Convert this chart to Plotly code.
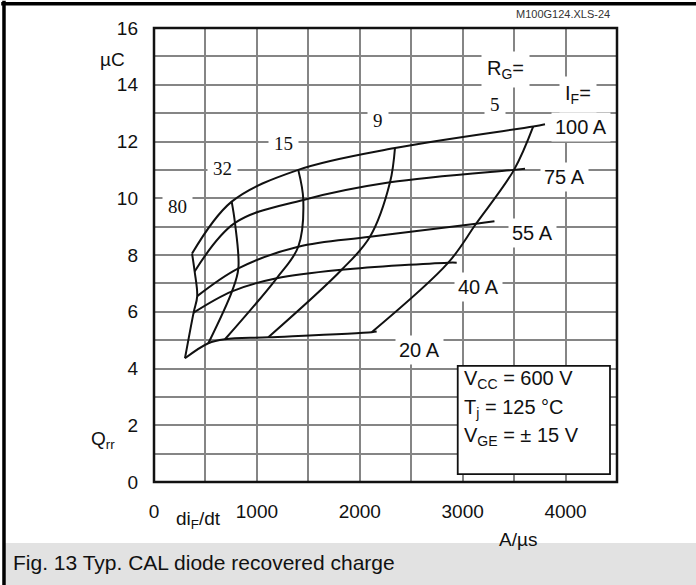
import plotly.graph_objects as go

# ---------------- data ----------------
IF_labels = ["100 A", "75 A", "55 A", "40 A", "20 A"]
RG_labels = ["80", "32", "15", "9", "5"]

# di/dt (A/us) at the intersections: rows = I_F, columns = R_G (80, 32, 15, 9, 5)
didt_100 = [370, 755, 1402, 2342, 3686]
didt_75 = [395, 787, 1451, 2294, 3499]
didt_55 = [420, 820, 1402, 2099, 3130]
didt_40 = [385, 758, 1192, 1824, 2860]
didt_20 = [301, 528, 690, 1111, 2116]

# Qrr (uC) at the intersections
qrr_100 = [8.05, 9.88, 11.0, 11.77, 12.53]
qrr_75 = [7.42, 9.13, 9.94, 10.56, 11.0]
qrr_55 = [6.55, 7.53, 8.29, 8.64, 9.10]
qrr_40 = [5.97, 6.72, 7.18, 7.48, 7.73]
qrr_20 = [4.36, 4.89, 5.03, 5.10, 5.28]

# end points of the I_F curves (they overshoot the R_G = 5 curve)
end_didt = [3800, 3606, 3309, 2942, 2164]
end_qrr = [12.61, 11.04, 9.19, 7.73, 5.30]

x_ticks = [0, 1000, 2000, 3000, 4000]
x_ticktext = ["0", "1000", "2000", "3000", "4000"]
y_ticks = [0, 2, 4, 6, 8, 10, 12, 14, 16]
y_ticktext = ["0", "2", "4", "6", "8", "10", "12", "14", "16"]

didt_rows = [didt_100, didt_75, didt_55, didt_40, didt_20]
qrr_rows = [qrr_100, qrr_75, qrr_55, qrr_40, qrr_20]

SANS = "Arial, Liberation Sans, sans-serif"
SERIF = "Times New Roman, Liberation Serif, serif"
INK = "#111111"

fig = go.Figure()

# I_F curves
for i, name in enumerate(IF_labels):
    xs = didt_rows[i] + [end_didt[i]]
    ys = qrr_rows[i] + [end_qrr[i]]
    fig.add_trace(go.Scatter(x=xs, y=ys, mode="lines", name=name,
                             line=dict(color=INK, width=2, shape="spline", smoothing=1.0),
                             showlegend=False, hoverinfo="skip"))

# R_G curves
for j, name in enumerate(RG_labels):
    xs = [row[j] for row in didt_rows]
    ys = [row[j] for row in qrr_rows]
    fig.add_trace(go.Scatter(x=xs, y=ys, mode="lines", name="RG " + name,
                             line=dict(color=INK, width=2, shape="spline", smoothing=1.0),
                             showlegend=False, hoverinfo="skip"))

C = dict(xanchor="center", yanchor="middle", showarrow=False)

ann = []
# I_F labels
if_pos = [(4150, 12.52), (3985, 10.75), (3674, 8.78), (3149, 6.88), (2585, 4.65)]
for (x, y), t in zip(if_pos, IF_labels):
    ann.append(dict(x=x, y=y, text=t, bgcolor="white",
                    font=dict(family=SANS, size=20, color=INK), borderpad=3, **C))
# R_G labels
rg_pos = [(224, 9.70), (661, 11.04), (1263, 11.92), (2177, 12.73), (3314, 13.29)]
for (x, y), t in zip(rg_pos, RG_labels):
    ann.append(dict(x=x, y=y, text=t, bgcolor="white",
                    font=dict(family=SERIF, size=19, color=INK), borderpad=5, **C))
ann.append(dict(x=3421, y=14.53, text="R<sub>G</sub>=", bgcolor="white",
                font=dict(family=SANS, size=20, color=INK), borderpad=5, **C))
ann.append(dict(x=4121, y=13.65, text="I<sub>F</sub>=", bgcolor="white",
                font=dict(family=SANS, size=20, color=INK), borderpad=5, **C))

# condition box text
cond = ["V<sub>CC</sub> = 600 V", "T<sub>j</sub> = 125 °C", "V<sub>GE</sub> = ± 15 V"]
cond_y = [3.6, 2.6, 1.6]
for t, y in zip(cond, cond_y):
    ann.append(dict(x=2990, y=y, text=t, showarrow=False, xanchor="left", yanchor="middle",
                    font=dict(family=SANS, size=20, color=INK)))

# axis labels & misc text (paper coords)
P = dict(xref="paper", yref="paper", showarrow=False, yanchor="middle")
ann += [
    dict(x=0.0432, y=-0.0838, xanchor="left", text="di<sub>F</sub>/dt",
         font=dict(family=SANS, size=19, color=INK), **P),
    dict(x=0.786, y=-0.1256, xanchor="center", text="A/µs",
         font=dict(family=SANS, size=19, color=INK), **P),
    dict(x=-0.0907, y=0.930, xanchor="center", text="µC",
         font=dict(family=SANS, size=19, color=INK), **P),
    dict(x=-0.110, y=0.0926, xanchor="center", text="Q<sub>rr</sub>",
         font=dict(family=SANS, size=19, color=INK), **P),
    dict(x=0.989, y=1.0315, xanchor="right", text="M100G124.XLS-24",
         font=dict(family=SANS, size=11, color="#333333"), **P),
    dict(x=-0.3089, y=-0.1763, xanchor="left",
         text="Fig. 13 Typ. CAL diode recovered charge",
         font=dict(family=SANS, size=21, color=INK), **P),
]

shapes = [
    # caption band
    dict(type="rect", xref="paper", yref="paper", x0=-0.3218, x1=1.18, y0=-0.25, y1=-0.1344,
         fillcolor="#e2e2e2", line=dict(width=0), layer="below"),
    # condition box
    dict(type="rect", xref="x", yref="y", x0=2952, x1=4432, y0=0.28, y1=4.09,
         fillcolor="white", line=dict(color=INK, width=1.8), layer="above"),
    # plot frame
    dict(type="rect", xref="paper", yref="paper", x0=0, x1=1, y0=0, y1=1,
         line=dict(color=INK, width=2.5)),
    # outer image border (top and left)
    dict(type="line", xref="paper", yref="paper", x0=-0.33, x1=1.18, y0=1.0535, y1=1.0535,
         line=dict(color="black", width=3.5)),
    dict(type="line", xref="paper", yref="paper", x0=-0.3240, x1=-0.3240, y0=1.06, y1=-0.25,
         line=dict(color="black", width=3.5)),
]

fig.update_layout(
    width=696, height=585,
    margin=dict(l=154, r=79, t=28, b=103),
    paper_bgcolor="white", plot_bgcolor="white",
    annotations=ann, shapes=shapes,
    showlegend=False,
)
fig.update_xaxes(range=[0, 4500], tickvals=x_ticks, ticktext=x_ticktext,
                 showgrid=True, gridcolor="#858585", gridwidth=1.5,
                 minor=dict(tickvals=[500, 1500, 2500, 3500], showgrid=True,
                            gridcolor="#858585", gridwidth=1.5),
                 zeroline=False, showline=False, ticks="",
                 tickfont=dict(family=SANS, size=19, color=INK), ticklabelstandoff=16)
fig.update_yaxes(range=[0, 16], tickvals=y_ticks, ticktext=y_ticktext,
                 showgrid=True, gridcolor="#858585", gridwidth=1.5,
                 minor=dict(tickvals=[1, 3, 5, 7, 9, 11, 13, 15], showgrid=True,
                            gridcolor="#858585", gridwidth=1.5),
                 zeroline=False, showline=False, ticks="",
                 tickfont=dict(family=SANS, size=19, color=INK), ticklabelstandoff=15)

fig.write_html("out.html",
               config={"displayModeBar": False},
               post_script="document.body.style.margin='0';document.body.style.padding='0';"
                           "document.documentElement.style.overflow='hidden';")
